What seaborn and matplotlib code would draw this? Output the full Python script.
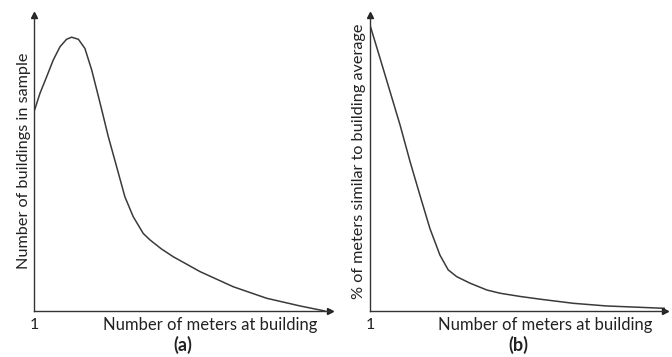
import numpy as np
import pandas as pd
import matplotlib
matplotlib.use('Agg')
import matplotlib.pyplot as plt
import seaborn as sns

# ======================================================
# DATA (axes scaled 0-100)
# ======================================================
x_a = [0.2, 2.0, 4.3, 6.5, 8.8, 11.0, 12.7, 15.0, 17.2, 19.5, 21.2, 22.9, 25.1, 27.9,
       30.7, 33.5, 36.9, 39.2, 43.0, 47.1, 56.1, 67.3, 78.6, 89.9, 98.3]
y_a = [67.9, 73.5, 79.2, 84.8, 89.3, 91.8, 92.5, 91.8, 88.7, 81.4, 74.7, 67.9, 58.9, 48.8,
       38.6, 31.9, 26.2, 24.0, 21.0, 18.3, 13.3, 8.2, 4.3, 1.7, 0]

x_b = [0, 3.4, 6.8, 10.2, 13.6, 16.9, 20.3, 23.7, 26.5, 29.4, 33.9, 39.6, 44.1, 51.0,
       57.6, 68.9, 80.2, 100]
y_b = [96.6, 85.4, 74.1, 62.8, 50.4, 39.2, 27.9, 18.9, 13.9, 11.6, 9.4, 7.1, 6.0, 4.9,
       4.0, 2.6, 1.7, 0.9]

ylabels = ['Number of buildings in sample', '% of meters similar to building average']
xlabel = 'Number of meters at building'
panel_names = ['(a)', '(b)']

sns.set_theme(style='white')
plt.rcParams['font.family'] = ['Lato', 'DejaVu Sans']

W, H = 672, 357
fig = plt.figure(figsize=(W / 100, H / 100), dpi=100)


def px(x, y):
    return x / W, 1 - y / H


# axes placement in pixels: (left, right)
panels = [
    (34, 330, x_a, y_a, 24),
    (370, 665, x_b, y_b, 359),
]

for i, (left, right, xs, ys, ylab_x) in enumerate(panels):
    ax = fig.add_axes([left / W, (H - 311) / H, (right - left) / W, 296 / H])
    df = pd.DataFrame({'x': xs, 'y': ys})
    sns.lineplot(data=df, x='x', y='y', ax=ax, color='#3a3a3a', linewidth=1.1, sort=False)
    ax.set_xlim(0, 100)
    ax.set_ylim(0, 100)
    ax.set_xticks([])
    ax.set_yticks([])
    ax.set_xlabel('')
    ax.set_ylabel('')
    for s in ['top', 'right']:
        ax.spines[s].set_visible(False)
    for s in ['left', 'bottom']:
        ax.spines[s].set_color('#333333')
        ax.spines[s].set_linewidth(1.0)
    # arrow heads
    ax.plot(1, 0, '>', color='#222222', markersize=4, transform=ax.transAxes, clip_on=False)
    ax.plot(0, 1, '^', color='#222222', markersize=4, transform=ax.transAxes, clip_on=False)

    # texts
    fig.text(*px(left, 325), '1', ha='center', va='center', fontsize=11.5, color='#222222')
    fig.text(*px(right - 13, 325), xlabel, ha='right', va='center', fontsize=12, color='#222222')
    fig.text(*px((left + right) / 2 + 1, 345), panel_names[i], ha='center', va='center',
             fontsize=13, fontweight='bold', color='#222222')
    fig.text(*px(ylab_x, 161), ylabels[i], ha='center', va='center', rotation=90,
             fontsize=11.7, color='#222222')

plt.savefig('out.png', dpi=100)
plt.close()
